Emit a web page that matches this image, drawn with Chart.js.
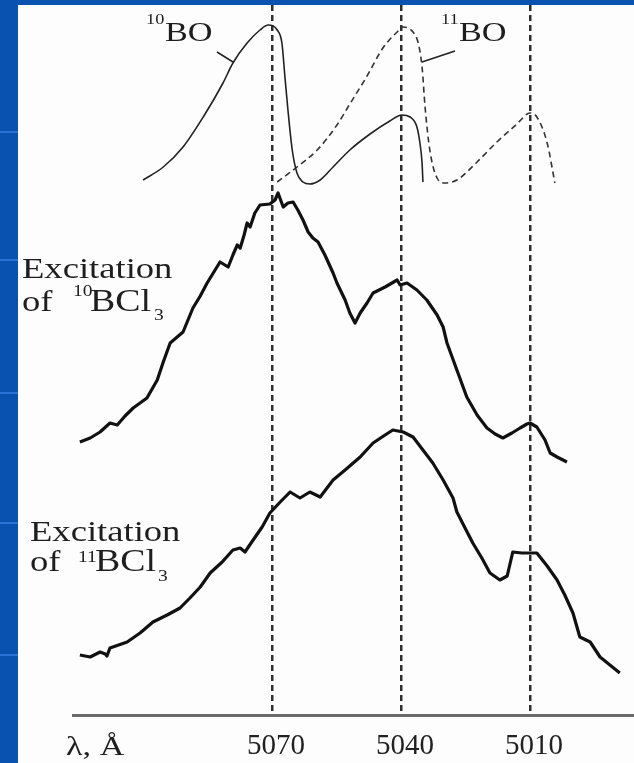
<!DOCTYPE html>
<html>
<head>
<meta charset="utf-8">
<script src="https://cdn.jsdelivr.net/npm/chart.js@4/dist/chart.umd.min.js"></script>
<style>
  html, body { margin: 0; padding: 0; background: #0a52b0; }
  #wrap { position: relative; width: 634px; height: 763px; }
  canvas { display: block; }
</style>
</head>
<body>
<div id="wrap"><canvas id="c" width="634" height="763"></canvas></div>
<script>
// Wavelength ticks (Å)
const tickWavelengths = [5070, 5040, 5010];

// 10BO emission band (solid) – wavelength (Å) and relative intensity
const bo10Lambda = [5100.0, 5095.3, 5090.7, 5086.0, 5081.4, 5079.1, 5075.8, 5072.8, 5070.9, 5068.8, 5067.7, 5067.0, 5066.3, 5065.3, 5064.2, 5062.8, 5061.2, 5058.8, 5055.8, 5051.9, 5047.2, 5042.6, 5039.8, 5037.9, 5036.3, 5035.6, 5035.1, 5034.9];
const bo10Value  = [535, 548, 568, 598, 632, 652, 672, 685, 690, 685, 672, 638, 605, 565, 542, 533, 531, 535, 548, 565, 581, 594, 600, 598, 588, 572, 552, 533];

// 11BO emission band (dashed)
const bo11Lambda = [5068.8, 5064.2, 5059.5, 5054.9, 5051.9, 5047.9, 5044.2, 5040.9, 5039.5, 5037.2, 5036.0, 5035.1, 5034.4, 5033.3, 5031.6, 5029.8, 5027.0, 5022.3, 5017.7, 5013.0, 5010.0, 5008.4, 5006.0, 5004.2];
const bo11Value  = [533, 548, 565, 590, 611, 639, 667, 683, 688, 683, 672, 648, 608, 565, 537, 532, 535, 553, 573, 591, 602, 598, 572, 532];

// Excitation spectrum of 10BCl3
const bcl10Lambda = [5114.7, 5112.3, 5110.0, 5107.7, 5106.0, 5104.2, 5102.3, 5099.1, 5096.7, 5095.3, 5093.7, 5090.7, 5088.4, 5086.7, 5085.1, 5082.1, 5080.2, 5079.1, 5078.1, 5077.4, 5076.5, 5075.8, 5075.1, 5074.0, 5072.8, 5070.5, 5069.3, 5068.6, 5067.4, 5066.3, 5065.1, 5064.0, 5062.8, 5061.6, 5060.5, 5059.3, 5057.7, 5055.8, 5054.9, 5053.0, 5051.9, 5050.7, 5049.5, 5047.9, 5046.5, 5043.7, 5040.9, 5040.2, 5038.6, 5036.3, 5034.0, 5031.6, 5030.2, 5029.3, 5027.0, 5024.7, 5022.3, 5020.0, 5018.1, 5016.3, 5014.2, 5012.3, 5010.7, 5010.0, 5008.4, 5006.5, 5005.3, 5003.7, 5001.4];
const bcl10Value  = [273, 277, 283, 292, 290, 299, 307, 317, 335, 353, 372, 383, 407, 419, 432, 453, 448, 460, 470, 467, 480, 492, 488, 502, 510, 511, 515, 522, 508, 512, 513, 505, 495, 483, 477, 473, 460, 442, 432, 415, 402, 392, 402, 412, 422, 428, 435, 430, 432, 425, 415, 400, 388, 372, 345, 318, 300, 287, 281, 277, 282, 287, 291, 292, 288, 275, 262, 258, 253];

// Excitation spectrum of 11BCl3
const bcl11Lambda = [5114.7, 5112.3, 5110.0, 5108.8, 5108.4, 5107.7, 5103.7, 5100.7, 5097.7, 5094.4, 5091.4, 5089.1, 5086.7, 5084.4, 5081.6, 5079.1, 5077.4, 5076.3, 5074.4, 5072.3, 5070.5, 5068.1, 5065.8, 5063.5, 5061.2, 5058.8, 5055.8, 5053.0, 5049.5, 5046.5, 5043.7, 5041.9, 5039.5, 5037.2, 5034.9, 5032.6, 5030.2, 5027.9, 5027.0, 5025.1, 5023.3, 5021.2, 5019.3, 5017.0, 5015.3, 5014.0, 5011.9, 5010.0, 5008.4, 5006.0, 5003.7, 5001.9, 5000.0, 4998.4, 4996.0, 4993.7, 4991.4, 4989.1];
const bcl11Value  = [60, 58, 63, 61, 59, 67, 73, 82, 93, 100, 107, 117, 128, 142, 153, 165, 167, 163, 175, 188, 202, 213, 223, 217, 223, 218, 235, 245, 258, 272, 280, 285, 283, 278, 265, 252, 235, 217, 203, 187, 172, 157, 142, 135, 139, 163, 162, 162, 162, 149, 135, 120, 102, 78, 73, 58, 50, 42];

const toPoints = (xs, ys) => xs.map((x, i) => ({ x: x, y: ys[i] }));

const SERIF = '"Liberation Serif", "DejaVu Serif", serif';
const STRETCH = 1.22;

// Draws text horizontally widened; returns the drawn width
function wideText(ctx, text, x, y, size) {
  ctx.save();
  ctx.font = size + 'px ' + SERIF;
  ctx.translate(x, y);
  ctx.scale(STRETCH, 1);
  ctx.fillText(text, 0, 0);
  const w = ctx.measureText(text).width * STRETCH;
  ctx.restore();
  return w;
}

// Slide backdrop: blue frame with a white panel
const backdrop = {
  id: 'backdrop',
  beforeDraw(chart) {
    const ctx = chart.ctx;
    ctx.save();
    ctx.fillStyle = '#0a52b0';
    ctx.fillRect(0, 0, chart.width, chart.height);
    ctx.fillStyle = '#2b73d4';
    [132, 260, 393, 523, 655].forEach(y => ctx.fillRect(0, y - 1, 18, 2));
    ctx.fillStyle = '#fdfdfd';
    ctx.fillRect(18, 5, chart.width - 18, chart.height - 5);
    ctx.restore();
  }
};

// Band labels, spectrum labels and the axis caption
const annotations = {
  id: 'annotations',
  afterDraw(chart) {
    const ctx = chart.ctx;
    ctx.save();
    ctx.fillStyle = '#1e1e1e';
    ctx.textBaseline = 'alphabetic';

    wideText(ctx, '10', 146, 24, 15);
    wideText(ctx, 'BO', 165, 41, 28);
    wideText(ctx, '11', 441, 24, 15);
    wideText(ctx, 'BO', 459, 41, 28);

    wideText(ctx, 'Excitation', 22, 278, 30);
    wideText(ctx, 'of', 22, 311, 30);
    wideText(ctx, '10', 73, 296, 16);
    let w = wideText(ctx, 'BCl', 90, 311, 31);
    wideText(ctx, '3', 90 + w + 3, 320, 16);

    wideText(ctx, 'Excitation', 30, 541, 30);
    wideText(ctx, 'of', 30, 571, 30);
    wideText(ctx, '11', 78, 562, 16);
    w = wideText(ctx, 'BCl', 95, 571, 31);
    wideText(ctx, '3', 95 + w + 2, 581, 16);

    wideText(ctx, 'λ, Å', 66, 755, 28);

    ctx.strokeStyle = '#222';
    ctx.lineWidth = 1.5;
    ctx.beginPath();
    ctx.moveTo(217, 52); ctx.lineTo(233, 62);
    ctx.moveTo(455, 51); ctx.lineTo(422, 62);
    ctx.stroke();
    ctx.restore();
  }
};

new Chart(document.getElementById('c'), {
  type: 'line',
  data: {
    datasets: [
      { label: '10BO', data: toPoints(bo10Lambda, bo10Value), borderColor: '#222', borderWidth: 1.6, pointRadius: 0, tension: 0.4, cubicInterpolationMode: 'monotone', fill: false },
      { label: '11BO', data: toPoints(bo11Lambda, bo11Value), borderColor: '#333', borderWidth: 1.6, borderDash: [6, 4], pointRadius: 0, tension: 0.4, cubicInterpolationMode: 'monotone', fill: false },
      { label: 'Excitation of 10BCl3', data: toPoints(bcl10Lambda, bcl10Value), borderColor: '#111', borderWidth: 3.2, pointRadius: 0, tension: 0, borderJoinStyle: 'round', fill: false },
      { label: 'Excitation of 11BCl3', data: toPoints(bcl11Lambda, bcl11Value), borderColor: '#111', borderWidth: 3.2, pointRadius: 0, tension: 0, borderJoinStyle: 'round', fill: false }
    ]
  },
  options: {
    responsive: false,
    animation: false,
    devicePixelRatio: 1,
    layout: { padding: { left: 73, right: 0, top: 5, bottom: 0 } },
    plugins: { legend: { display: false }, tooltip: { enabled: false } },
    scales: {
      x: {
        type: 'linear',
        reverse: true,
        min: 4985.8,
        max: 5116.3,
        afterBuildTicks(scale) { scale.ticks = tickWavelengths.map(v => ({ value: v })); },
        afterFit(scale) { scale.height = 48; },
        ticks: {
          autoSkip: false,
          maxRotation: 0,
          padding: 14,
          labelOffset: 4,
          color: '#222',
          font: { family: SERIF, size: 29 },
          callback: v => String(v)
        },
        grid: { color: '#2e2e2e', lineWidth: 2.5, drawTicks: false, drawOnChartArea: true },
        border: { display: true, color: '#6a6a6a', width: 3, dash: [6, 4] }
      },
      y: { display: false, min: 0, max: 710 }
    }
  },
  plugins: [backdrop, annotations]
});
</script>
</body>
</html>
